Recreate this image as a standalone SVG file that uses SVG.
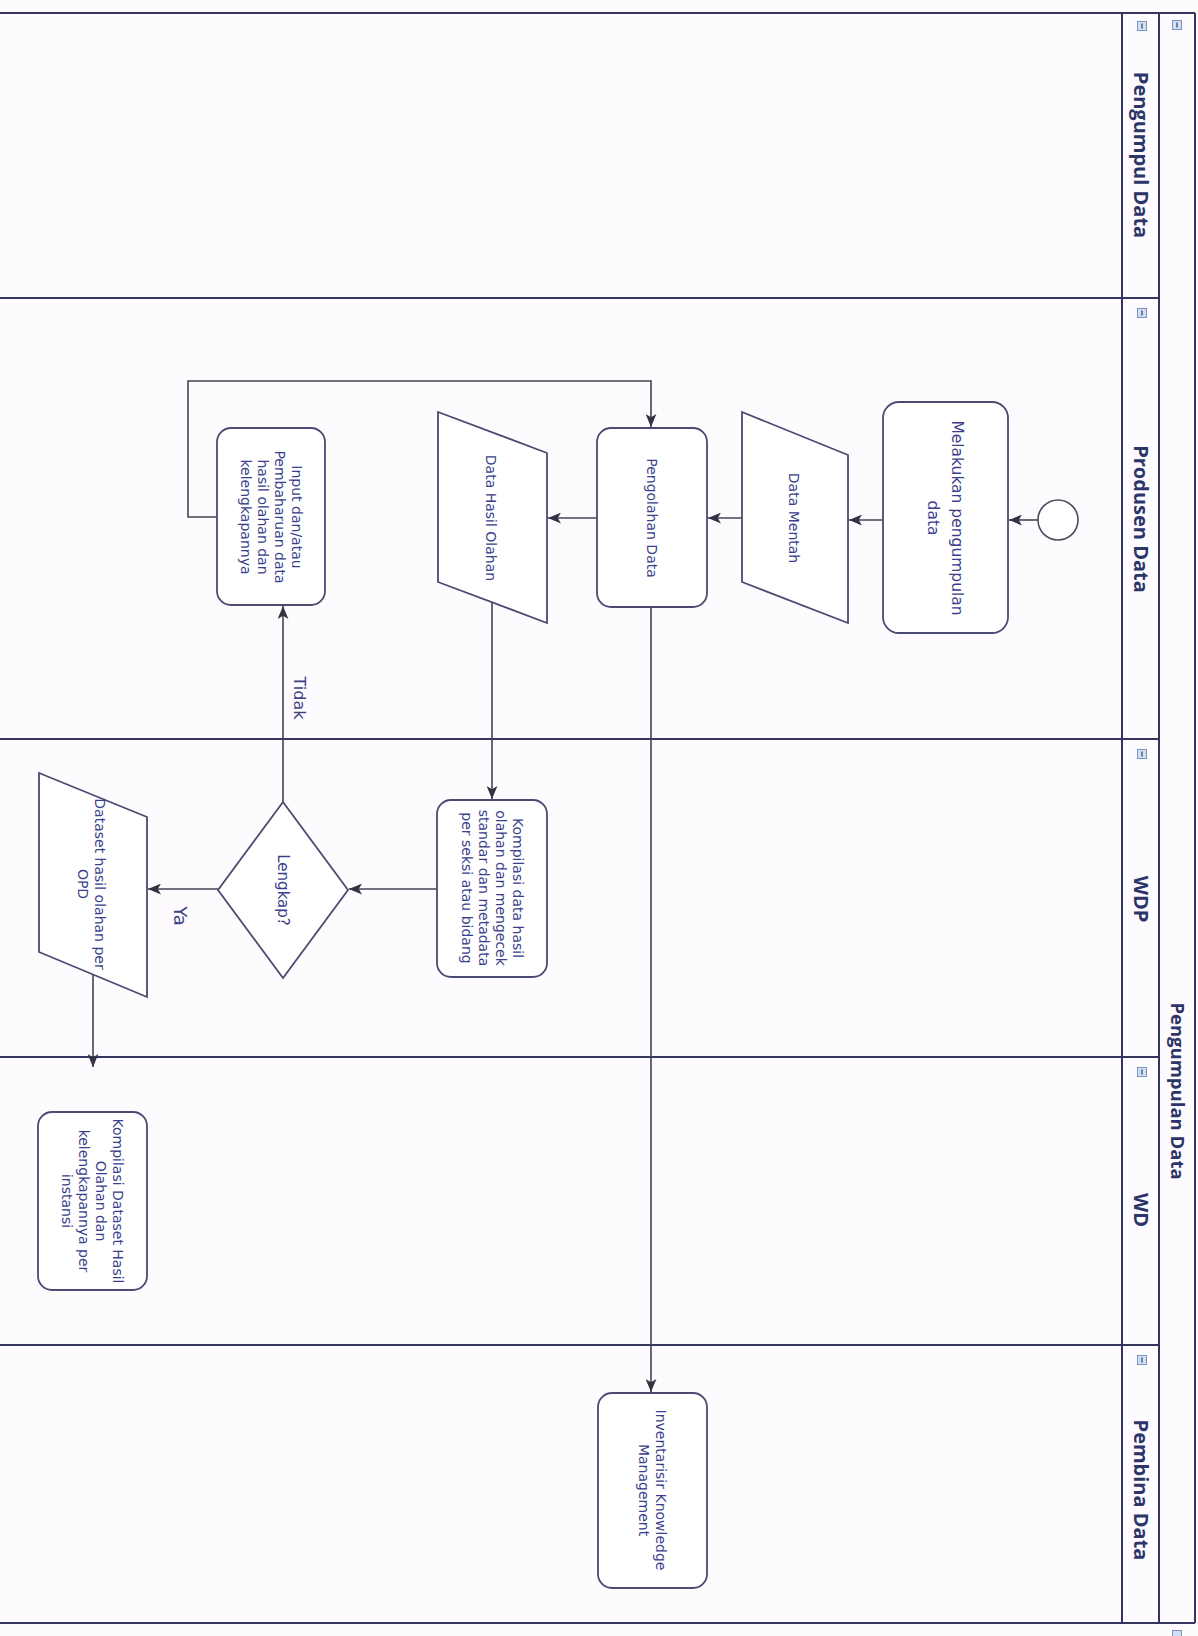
<svg xmlns="http://www.w3.org/2000/svg" width="1198" height="1636" viewBox="0 0 1198 1636">
<style>
.bg{fill:#fdfbfe}
.lane{stroke:#33365e;stroke-width:2;fill:none}
.node{fill:#ffffff;stroke:#4a4a72;stroke-width:1.8}
.t{font-family:"DejaVu Sans",Verdana,sans-serif;font-size:14px;fill:#3a3e8c;text-anchor:middle}
.lbl{font-family:"Open Sans","Liberation Sans",sans-serif;font-weight:bold;font-size:20px;fill:#2c3468;text-anchor:middle}
.edge{stroke:#444456;stroke-width:1.6;fill:none}
.el{font-family:"DejaVu Sans",Verdana,sans-serif;font-size:16px;fill:#3e4280;text-anchor:middle}
.ic{fill:#cfe0f4;stroke:#7d93b8;stroke-width:1}
.icm{stroke:#33406a;stroke-width:1.2}
</style>
<defs>
<marker id="ah" viewBox="0 0 12 10" refX="12" refY="5" markerWidth="13" markerHeight="11" orient="auto" markerUnits="userSpaceOnUse">
<path d="M0,0 L12,5 L0,10 L3,5 z" fill="#333344"/>
</marker>
</defs>
<rect class="bg" x="0" y="0" width="1198" height="1636"/>

<g id="pool">
<line class="lane" x1="0" y1="13" x2="1195" y2="13"/>
<line class="lane" x1="0" y1="1623" x2="1195" y2="1623"/>
<line class="lane" x1="1195" y1="13" x2="1195" y2="1623"/>
<line class="lane" x1="1159" y1="13" x2="1159" y2="1623"/>
<line class="lane" x1="1122" y1="13" x2="1122" y2="1623"/>
<line class="lane" x1="0" y1="298" x2="1159" y2="298"/>
<line class="lane" x1="0" y1="739" x2="1159" y2="739"/>
<line class="lane" x1="0" y1="1057" x2="1159" y2="1057"/>
<line class="lane" x1="0" y1="1345" x2="1159" y2="1345"/>
<rect class="ic" x="1172.5" y="20.5" width="9" height="9"/><line class="icm" x1="1177" y1="22.5" x2="1177" y2="27.5"/>
<text class="lbl" transform="translate(1177,1091) rotate(90)" y="6.5" style="font-size:18.5px">Pengumpulan Data</text>
<rect class="ic" x="1172.5" y="1630.5" width="9" height="9"/>
</g>

<g id="lane-pengumpul">
<rect class="ic" x="1137.5" y="21.5" width="9" height="9"/><line class="icm" x1="1142" y1="23.5" x2="1142" y2="28.5"/>
<text class="lbl" transform="translate(1141,155) rotate(90)" y="7">Pengumpul Data</text>
</g>
<g id="lane-produsen">
<rect class="ic" x="1137.5" y="308.5" width="9" height="9"/><line class="icm" x1="1142" y1="310.5" x2="1142" y2="315.5"/>
<text class="lbl" transform="translate(1141,519) rotate(90)" y="7">Produsen Data</text>
</g>
<g id="lane-wdp">
<rect class="ic" x="1137.5" y="749.5" width="9" height="9"/><line class="icm" x1="1142" y1="751.5" x2="1142" y2="756.5"/>
<text class="lbl" transform="translate(1141,899) rotate(90)" y="7">WDP</text>
</g>
<g id="lane-wd">
<rect class="ic" x="1137.5" y="1067.5" width="9" height="9"/><line class="icm" x1="1142" y1="1069.5" x2="1142" y2="1074.5"/>
<text class="lbl" transform="translate(1141,1210) rotate(90)" y="7">WD</text>
</g>
<g id="lane-pembina">
<rect class="ic" x="1137.5" y="1355.5" width="9" height="9"/><line class="icm" x1="1142" y1="1357.5" x2="1142" y2="1362.5"/>
<text class="lbl" transform="translate(1141,1490) rotate(90)" y="7">Pembina Data</text>
</g>

<g id="connectors">
<line class="edge" x1="1038" y1="520" x2="1009" y2="520" marker-end="url(#ah)"/>
<line class="edge" x1="883" y1="520" x2="849" y2="520" marker-end="url(#ah)"/>
<line class="edge" x1="742" y1="518" x2="708" y2="518" marker-end="url(#ah)"/>
<line class="edge" x1="597" y1="518" x2="548" y2="518" marker-end="url(#ah)"/>
<polyline class="edge" points="217,517 188,517 188,381 651,381 651,427" marker-end="url(#ah)"/>
<line class="edge" x1="492" y1="602" x2="492" y2="799" marker-end="url(#ah)"/>
<line class="edge" x1="437" y1="889" x2="349" y2="889" marker-end="url(#ah)"/>
<line class="edge" x1="283" y1="802" x2="283" y2="606" marker-end="url(#ah)"/>
<line class="edge" x1="218" y1="889" x2="148" y2="889" marker-end="url(#ah)"/>
<line class="edge" x1="93" y1="975" x2="93" y2="1067" marker-end="url(#ah)"/>
<line class="edge" x1="651" y1="607" x2="651" y2="1392" marker-end="url(#ah)"/>
<text class="el" transform="translate(300,698) rotate(90)" y="6">Tidak</text>
<text class="el" transform="translate(180,916) rotate(90)" y="6.5" style="font-size:18px">Ya</text>
</g>

<g id="start">
<circle cx="1058" cy="520" r="20" fill="#ffffff" stroke="#4a4a60" stroke-width="1.6"/>
</g>

<g id="melakukan">
<rect class="node" x="883" y="402" width="125" height="231" rx="16"/>
<text class="t" transform="translate(945,518) rotate(90)" style="font-size:15.5px"><tspan x="0" y="-6.6">Melakukan pengumpulan</tspan><tspan x="0" y="17.4">data</tspan></text>
</g>

<g id="data-mentah">
<polygon class="node" points="742,412 848,455 848,623 742,582"/>
<text class="t" transform="translate(794,518) rotate(90)"><tspan x="0" y="5">Data Mentah</tspan></text>
</g>

<g id="pengolahan">
<rect class="node" x="597" y="428" width="110" height="179" rx="14"/>
<text class="t" transform="translate(652,518) rotate(90)"><tspan x="0" y="5">Pengolahan Data</tspan></text>
</g>

<g id="data-hasil">
<polygon class="node" points="438,412 547,453 547,623 438,582"/>
<text class="t" transform="translate(491,518) rotate(90)"><tspan x="0" y="5">Data Hasil Olahan</tspan></text>
</g>

<g id="input">
<rect class="node" x="217" y="428" width="108" height="177" rx="14"/>
<text class="t" transform="translate(271,517) rotate(90)"><tspan x="0" y="-20.5">Input dan/atau</tspan><tspan x="0" y="-3.5">Pembaharuan data</tspan><tspan x="0" y="13.5">hasil olahan dan</tspan><tspan x="0" y="30.5">kelengkapannya</tspan></text>
</g>

<g id="kompilasi-wdp">
<rect class="node" x="437" y="800" width="110" height="177" rx="14"/>
<text class="t" transform="translate(492,888) rotate(90)"><tspan x="0" y="-20.5">Kompilasi data hasil</tspan><tspan x="0" y="-3.5">olahan dan mengecek</tspan><tspan x="0" y="13.5">standar dan metadata</tspan><tspan x="0" y="30.5">per seksi atau bidang</tspan></text>
</g>

<g id="lengkap">
<polygon class="node" points="283,802 348,890 283,978 218,890"/>
<text class="t" transform="translate(283,890) rotate(90)" style="font-size:15px"><tspan x="0" y="5">Lengkap?</tspan></text>
</g>

<g id="dataset-opd">
<polygon class="node" points="39,773 147,817 147,997 39,952"/>
<text class="t" transform="translate(91,884) rotate(90)"><tspan x="0" y="-3.5">Dataset hasil olahan per</tspan><tspan x="0" y="13.5">OPD</tspan></text>
</g>

<g id="kompilasi-dataset">
<rect class="node" x="38" y="1112" width="109" height="178" rx="14"/>
<text class="t" transform="translate(92,1201) rotate(90)"><tspan x="0" y="-20.5">Kompilasi Dataset Hasil</tspan><tspan x="0" y="-3.5">Olahan dan</tspan><tspan x="0" y="13.5">kelengkapannya per</tspan><tspan x="0" y="30.5">instansi</tspan></text>
</g>

<g id="inventarisir">
<rect class="node" x="598" y="1393" width="109" height="195" rx="14"/>
<text class="t" transform="translate(652,1490) rotate(90)"><tspan x="0" y="-3.5">Inventarisir Knowledge</tspan><tspan x="0" y="13.5">Management</tspan></text>
</g>
</svg>
